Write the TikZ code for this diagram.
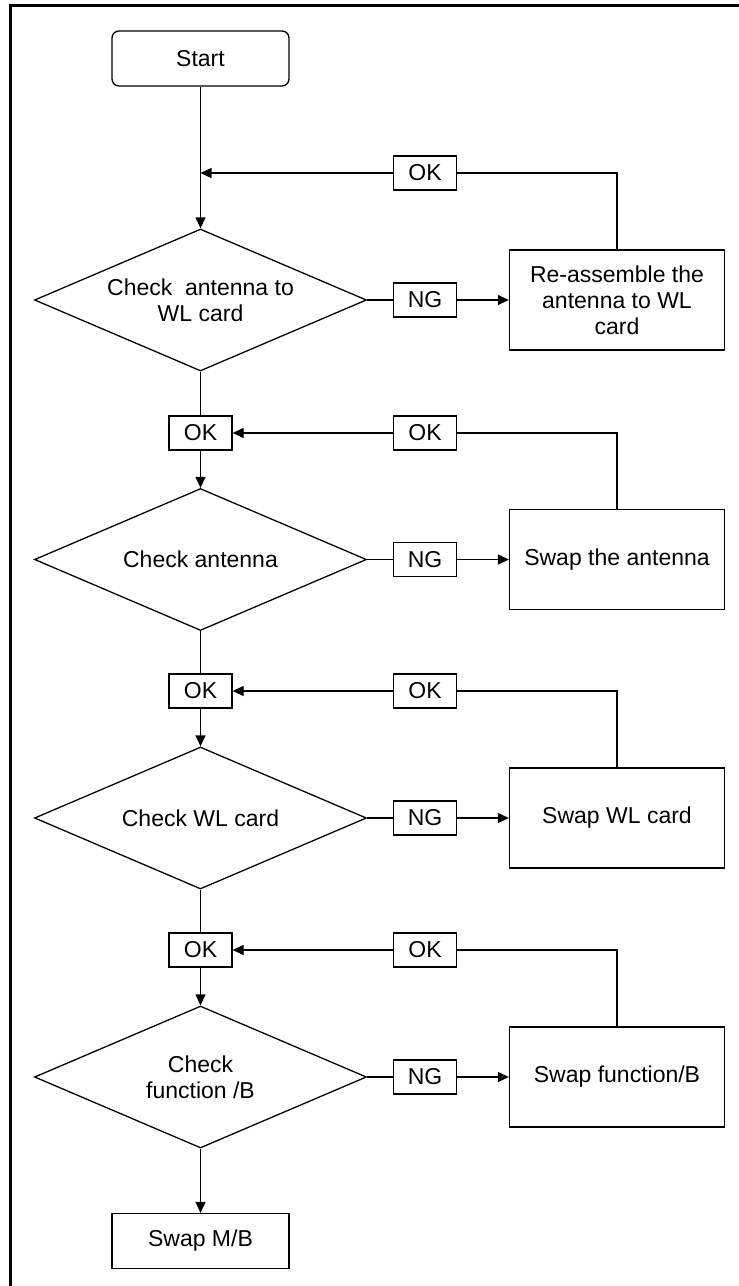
\documentclass[tikz,border=0pt]{standalone}
\usepackage{fontspec}
\setmainfont{Liberation Sans}
\usetikzlibrary{shapes.geometric,arrows.meta}
\begin{document}
\begin{tikzpicture}[x=1pt,y=-1pt,
  every node/.style={font=\fontsize{23}{26}\selectfont, line width=1.3pt},
  box/.style={draw, rectangle, inner sep=0pt, align=center},
  dia/.style={draw, diamond, aspect=2.34, inner sep=0pt, minimum width=332, minimum height=142, align=center},
  lab/.style={box, minimum width=63, minimum height=34},
  big/.style={box, minimum width=215, minimum height=100},
  term/.style={box, minimum width=177, minimum height=55},
  conn/.style={line width=1.3pt},
  arr/.style={conn, -{Triangle[length=11pt,width=10pt]}}]
\useasboundingbox (0,0) rectangle (739,1286);
% frame
\draw[line width=3.2pt] (739,5.3) -- (10.7,5.3) -- (10.7,1286);

% start
\node[term, rounded corners=7pt] (start) at (200.5,58.5) {Start};
\coordinate (j1) at (200.5,173);

% section 1
\node[dia] (d1) at (200.5,300) {Check\ \ antenna to\\WL card};
\node[lab] (ng1) at (425,300) {NG};
\node[big] (r1) at (617,300) {Re-assemble the\\antenna to WL\\card};
\node[lab] (ok1r) at (425,173) {OK};

% section 2
\node[lab] (ok2l) at (200.5,433) {OK};
\node[lab] (ok2r) at (425,433) {OK};
\node[dia] (d2) at (200.5,559.5) {Check antenna};
\node[lab] (ng2) at (425,559.5) {NG};
\node[big] (r2) at (617,559.5) {Swap the antenna};

% section 3
\node[lab] (ok3l) at (200.5,691) {OK};
\node[lab] (ok3r) at (425,691) {OK};
\node[dia] (d3) at (200.5,818) {Check WL card};
\node[lab] (ng3) at (425,818) {NG};
\node[big] (r3) at (617,818) {Swap WL card};

% section 4
\node[lab] (ok4l) at (200.5,950) {OK};
\node[lab] (ok4r) at (425,950) {OK};
\node[dia] (d4) at (200.5,1077) {Check\\function /B};
\node[lab] (ng4) at (425,1077) {NG};
\node[big] (r4) at (617,1077) {Swap function/B};

\node[term] (mb) at (200.5,1241) {Swap M/B};

% connectors
\draw[arr] (start.south) -- (d1.north);
\draw[conn] (r1.north) |- (ok1r.east);
\draw[arr] (ok1r.west) -- (j1);
\draw[conn] (d1.east) -- (ng1.west);
\draw[arr] (ng1.east) -- (r1.west);

\draw[conn] (d1.south) -- (ok2l.north);
\draw[arr] (ok2l.south) -- (d2.north);
\draw[conn] (r2.north) |- (ok2r.east);
\draw[arr] (ok2r.west) -- (ok2l.east);
\draw[conn] (d2.east) -- (ng2.west);
\draw[arr] (ng2.east) -- (r2.west);

\draw[conn] (d2.south) -- (ok3l.north);
\draw[arr] (ok3l.south) -- (d3.north);
\draw[conn] (r3.north) |- (ok3r.east);
\draw[arr] (ok3r.west) -- (ok3l.east);
\draw[conn] (d3.east) -- (ng3.west);
\draw[arr] (ng3.east) -- (r3.west);

\draw[conn] (d3.south) -- (ok4l.north);
\draw[arr] (ok4l.south) -- (d4.north);
\draw[conn] (r4.north) |- (ok4r.east);
\draw[arr] (ok4r.west) -- (ok4l.east);
\draw[conn] (d4.east) -- (ng4.west);
\draw[arr] (ng4.east) -- (r4.west);

\draw[arr] (d4.south) -- (mb.north);
\end{tikzpicture}
\end{document}
